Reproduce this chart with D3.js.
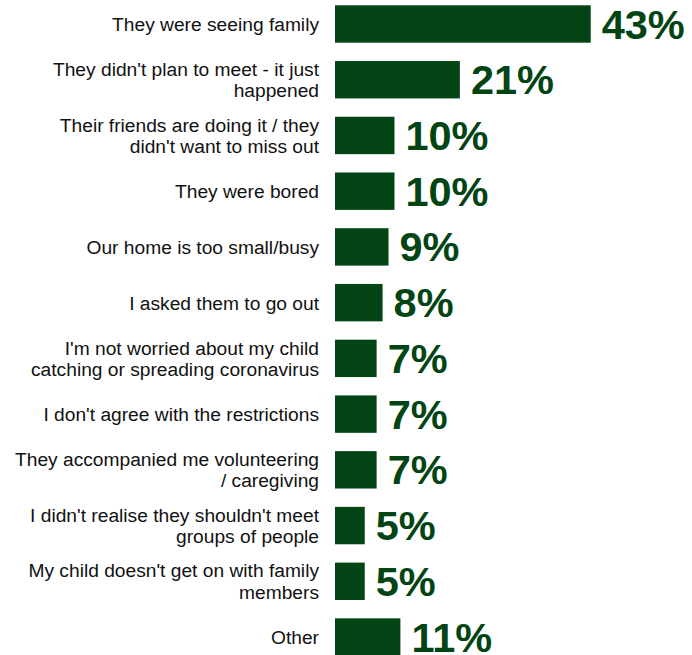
<!DOCTYPE html>
<html>
<head>
<meta charset="utf-8">
<script src="https://cdn.jsdelivr.net/npm/d3@7"></script>
<style>
  html, body { margin: 0; padding: 0; background: #ffffff; }
  svg { display: block; }
</style>
</head>
<body>
<svg id="chart" width="692" height="655"></svg>
<script>
const categories = [
  ["They were seeing family"],
  ["They didn't plan to meet - it just", "happened"],
  ["Their friends are doing it / they", "didn't want to miss out"],
  ["They were bored"],
  ["Our home is too small/busy"],
  ["I asked them to go out"],
  ["I'm not worried about my child", "catching or spreading coronavirus"],
  ["I don't agree with the restrictions"],
  ["They accompanied me volunteering", "/ caregiving"],
  ["I didn't realise they shouldn't meet", "groups of people"],
  ["My child doesn't get on with family", "members"],
  ["Other"]
];
const values = [43, 21, 10, 10, 9, 8, 7, 7, 7, 5, 5, 11];
const valueLabels = ["43%", "21%", "10%", "10%", "9%", "8%", "7%", "7%", "7%", "5%", "5%", "11%"];

const barColor = "#024414";
const svg = d3.select("#chart");

const barLeft = 335;
const x = d3.scaleLinear().domain([0, 43]).range([0, 255.7]);
const step = 55.73;
const pad = 0.329;
const y0 = 5.3 - pad * step / 2;
const y = d3.scaleBand()
  .domain(d3.range(categories.length))
  .range([y0, y0 + step * categories.length])
  .paddingInner(pad)
  .paddingOuter(pad / 2);

const g = svg.append("g");

g.selectAll("rect.bar")
  .data(values)
  .enter().append("rect")
  .attr("class", "bar")
  .attr("x", barLeft)
  .attr("y", (d, i) => y(i))
  .attr("width", d => x(d))
  .attr("height", y.bandwidth())
  .attr("fill", barColor);

g.selectAll("text.val")
  .data(values)
  .enter().append("text")
  .attr("class", "val")
  .attr("x", d => barLeft + x(d) + 11)
  .attr("y", (d, i) => y(i) + y.bandwidth() / 2)
  .attr("dy", "0.35em")
  .attr("font-family", "Liberation Sans, Arial, sans-serif")
  .attr("font-weight", "bold")
  .attr("font-size", 41.5)
  .attr("fill", barColor)
  .text((d, i) => valueLabels[i]);

const lineH = 21.5;
const labels = g.selectAll("text.cat")
  .data(categories)
  .enter().append("text")
  .attr("class", "cat")
  .attr("text-anchor", "end")
  .attr("font-family", "Liberation Sans, Arial, sans-serif")
  .attr("font-size", 19.2)
  .attr("fill", "#111111");

labels.each(function(lines, i) {
  const cy = y(i) + y.bandwidth() / 2;
  const n = lines.length;
  d3.select(this).selectAll("tspan")
    .data(lines)
    .enter().append("tspan")
    .attr("x", 319)
    .attr("y", (l, k) => cy + (k - (n - 1) / 2) * lineH)
    .attr("dy", "0.36em")
    .text(l => l);
});
</script>
</body>
</html>
